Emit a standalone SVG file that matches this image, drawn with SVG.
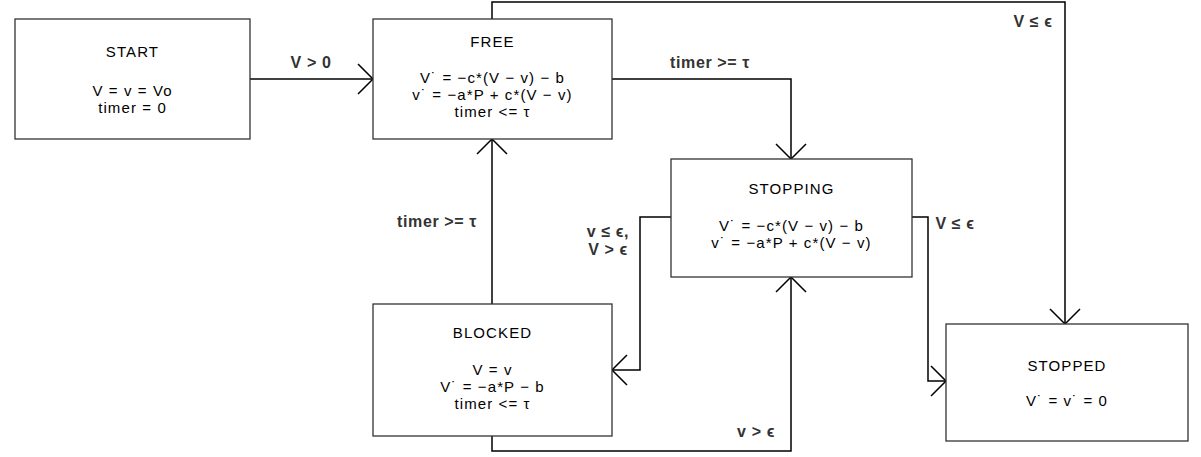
<svg xmlns="http://www.w3.org/2000/svg" width="1201" height="457" viewBox="0 0 1201 457">
<style>
.box{fill:#fff;stroke:#333;stroke-width:1.3}
.t{font-family:"Liberation Sans",Arial,sans-serif;font-size:15px;letter-spacing:1.1px;fill:#000;text-anchor:middle}
.edge{fill:none;stroke:#000;stroke-width:1.5}
.lbl{font-family:"Liberation Sans",Arial,sans-serif;font-size:16px;letter-spacing:0.6px;font-weight:bold;fill:#333;text-anchor:middle}
</style>
<defs>
<marker id="arr" markerUnits="userSpaceOnUse" markerWidth="40" markerHeight="40" refX="20" refY="20" viewBox="0 0 40 40" orient="auto">
<path d="M5,5 L20,20 L5,35" fill="none" stroke="#000" stroke-width="1.5"/>
</marker>
</defs>
<rect width="1201" height="457" fill="#fff"/>
<g id="connectors">
<path class="edge" d="M250,79 H373" marker-end="url(#arr)"/>
<path class="edge" d="M492,19 V2 H1065 V324" marker-end="url(#arr)"/>
<path class="edge" d="M612,79 H791 V159" marker-end="url(#arr)"/>
<path class="edge" d="M492,304 V139" marker-end="url(#arr)"/>
<path class="edge" d="M671,217 H640 V370 H612" marker-end="url(#arr)"/>
<path class="edge" d="M912,217 H928 V381 H946" marker-end="url(#arr)"/>
<path class="edge" d="M492,436 V451 H791 V277" marker-end="url(#arr)"/>
<text class="lbl" x="311" y="68">V &gt; 0</text>
<text class="lbl" x="1033" y="27">V ≤ ϵ</text>
<text class="lbl" x="710" y="68">timer &gt;= τ</text>
<text class="lbl" x="437" y="227">timer &gt;= τ</text>
<text class="lbl" x="608" y="237">v ≤ ϵ,</text>
<text class="lbl" x="608" y="255">V &gt; ϵ</text>
<text class="lbl" x="955" y="229">V ≤ ϵ</text>
<text class="lbl" x="756" y="437">v &gt; ϵ</text>
</g>
<g id="start">
<rect class="box" x="15" y="19" width="235" height="120"/>
<text class="t" x="132.5" y="57">START</text>
<text class="t" x="132.5" y="96">V = v = Vo</text>
<text class="t" x="132.5" y="113">timer = 0</text>
</g>
<g id="free">
<rect class="box" x="373" y="19" width="239" height="120"/>
<text class="t" x="492.5" y="47">FREE</text>
<text class="t" x="492.5" y="83">V˙ = −c*(V − v) − b</text>
<text class="t" x="492.5" y="100">v˙ = −a*P + c*(V − v)</text>
<text class="t" x="492.5" y="117">timer &lt;= τ</text>
</g>
<g id="stopping">
<rect class="box" x="671" y="159" width="241" height="118"/>
<text class="t" x="791.5" y="194">STOPPING</text>
<text class="t" x="791.5" y="231">V˙ = −c*(V − v) − b</text>
<text class="t" x="791.5" y="248">v˙ = −a*P + c*(V − v)</text>
</g>
<g id="blocked">
<rect class="box" x="373" y="304" width="239" height="132"/>
<text class="t" x="492.5" y="338">BLOCKED</text>
<text class="t" x="492.5" y="375">V = v</text>
<text class="t" x="492.5" y="392">V˙ = −a*P − b</text>
<text class="t" x="492.5" y="409">timer &lt;= τ</text>
</g>
<g id="stopped">
<rect class="box" x="946" y="324" width="242" height="117"/>
<text class="t" x="1067" y="371">STOPPED</text>
<text class="t" x="1067" y="406">V˙ = v˙ = 0</text>
</g>
</svg>
